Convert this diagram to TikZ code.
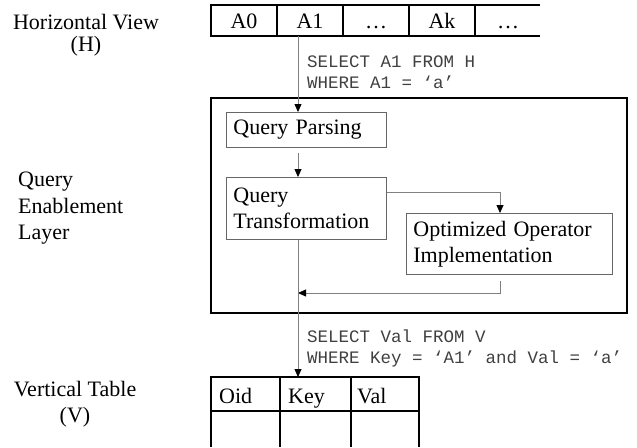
\documentclass[tikz,border=0pt]{standalone}
\usepackage{fontspec}
\setmainfont{Liberation Serif}
\setmonofont{Liberation Mono}
\usetikzlibrary{arrows.meta,calc}

\begin{document}
\begin{tikzpicture}[x=1pt,y=-1pt,
    every node/.style={font=\fontsize{22}{26}\selectfont,inner sep=0pt},
    grid/.style={line width=1.2pt},
    box/.style={draw=black!60,line width=.8pt,inner xsep=7pt,inner ysep=0pt,align=left,anchor=north west},
    flow/.style={draw=black!50,line width=.8pt,-{Triangle[length=8pt,width=7pt,color=black]}},
    sql/.style={font=\fontsize{17.5}{21}\selectfont\ttfamily,text=black!75,anchor=base west,align=left}]
  \useasboundingbox (0,0) rectangle (637,447);

  % horizontal view
  \node[align=center,anchor=north] (hview) at (86,14) {Horizontal View\\[-4pt](H)};
  \draw[grid] (540,5) -- (211,5) -- (211,36) -- (540,36);
  \foreach \x in {277,343,409,475} \draw[grid] (\x,5) -- (\x,36);
  \foreach \t [count=\i from 0] in {A0,A1,\dots,Ak,\dots}
    \node[anchor=base] (h\i) at (244+66*\i,28) {\t};
  \coordinate (hbot) at (298,36);
  % base sits on the last line
  \node[sql] (qin) at (307,88) {SELECT A1 FROM H\\WHERE A1 = ‘a’};

  % query enablement layer
  \node[align=left,anchor=north west] (qel) at (18,172) {Query\\[0.5pt]Enablement\\[0.5pt]Layer};
  \draw[grid] (211,98) rectangle (627,313);
  \node[box,minimum height=35pt,text width=146pt] (qp) at (226,112) {Query Parsing};
  \node[box,minimum height=62pt,text width=146pt] (qt) at (226,177) {Query\\Transformation};
  \node[box,minimum height=61pt,text width=192pt] (opt) at (406,213) {Optimized Operator\\Implementation};
  \coordinate (turn) at (500,192);

  \draw[flow] (hbot) -- (qp.north -| hbot);
  \draw[flow] ($(qp.south -| hbot)+(0,5)$) -- (qt.north -| hbot);
  \draw[flow] (qt.east |- turn) -| (opt.north -| turn);
  \draw[flow] ($(opt.south -| turn)+(0,6)$) |- (hbot |- 0,293);

  % vertical table
  \node[sql] (qout) at (307,363) {SELECT Val FROM V\\WHERE Key = ‘A1’ and Val = ‘a’};
  \node[align=center,anchor=north] (vtab) at (75,381) {Vertical Table\\(V)};
  \coordinate (vtop) at (298,377);
  \draw[flow] (qt.south -| hbot) -- (vtop);
  \draw[grid] (211,447) -- (211,377) -- (419,377) -- (419,447);
  \draw[grid] (211,411) -- (419,411);
  \foreach \x in {280,351} \draw[grid] (\x,377) -- (\x,447);
  \node[anchor=base west] (oid) at (219,403) {Oid};
  \node[anchor=base west] (key) at (288,403) {Key};
  \node[anchor=base west] (val) at (357,403) {Val};
\end{tikzpicture}
\end{document}
